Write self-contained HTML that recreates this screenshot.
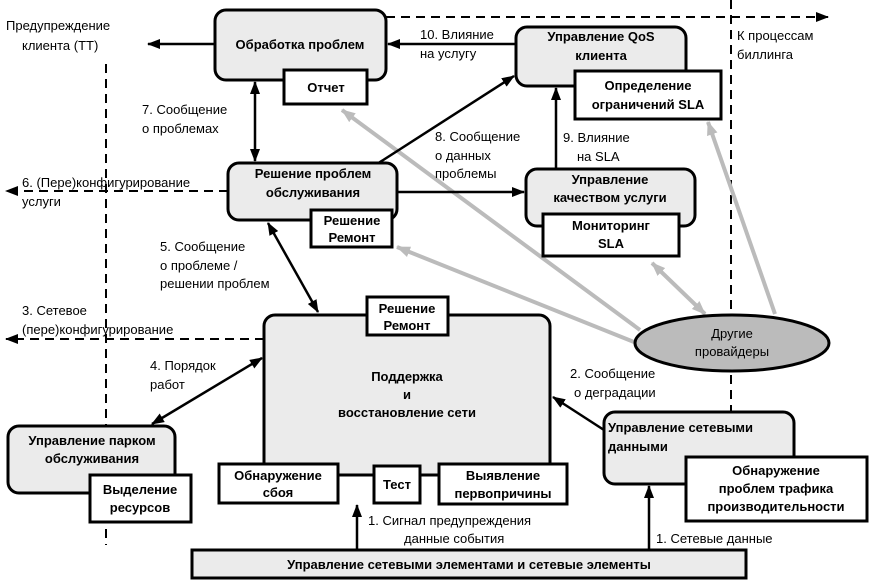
<!DOCTYPE html>
<html><head><meta charset="utf-8"><style>
html,body{margin:0;padding:0;background:#fff}
svg{display:block}
text{font-family:"Liberation Sans","DejaVu Sans",sans-serif;font-size:13px;fill:#000}
.b{font-weight:bold}
</style></head><body>
<svg width="869" height="581" viewBox="0 0 869 581" xmlns="http://www.w3.org/2000/svg">
<defs>
<marker id="a" markerWidth="13" markerHeight="10" refX="12" refY="5" orient="auto-start-reverse" markerUnits="userSpaceOnUse"><path d="M0,0 L13,5 L0,10 z" fill="#000"/></marker>
<marker id="g" markerWidth="14" markerHeight="11" refX="13" refY="5.5" orient="auto-start-reverse" markerUnits="userSpaceOnUse"><path d="M0,0 L14,5.5 L0,11 z" fill="#bbb"/></marker>
</defs>
<g stroke="#000" stroke-width="2" fill="none" stroke-dasharray="9,6">
<line x1="106" y1="64" x2="106" y2="545"/>
<line x1="731" y1="0" x2="731" y2="515"/>
<line x1="386" y1="17" x2="828" y2="17" marker-end="url(#a)"/>
<line x1="228" y1="191" x2="6" y2="191" marker-end="url(#a)"/>
<line x1="264" y1="339" x2="6" y2="339" marker-end="url(#a)"/>
</g>
<g stroke="#bbb" stroke-width="4" fill="none">
<line x1="640" y1="330" x2="342" y2="110" marker-end="url(#g)"/>
<line x1="634" y1="342" x2="397" y2="247" marker-end="url(#g)"/>
<line x1="705" y1="314" x2="652" y2="263" marker-end="url(#g)" marker-start="url(#g)"/>
<line x1="775" y1="314" x2="708" y2="122" marker-end="url(#g)"/>
</g>
<g stroke="#000" stroke-width="2.5" fill="none">
<line x1="215" y1="44" x2="148" y2="44" marker-end="url(#a)"/>
<line x1="516" y1="44" x2="388" y2="44" marker-end="url(#a)"/>
<line x1="255" y1="82" x2="255" y2="161" marker-end="url(#a)" marker-start="url(#a)"/>
<line x1="377" y1="164" x2="514" y2="76" marker-end="url(#a)"/>
<line x1="397" y1="192" x2="524" y2="192" marker-end="url(#a)"/>
<line x1="556" y1="169" x2="556" y2="88" marker-end="url(#a)"/>
<line x1="268" y1="223" x2="318" y2="312" marker-end="url(#a)" marker-start="url(#a)"/>
<line x1="262" y1="358" x2="152" y2="424" marker-end="url(#a)" marker-start="url(#a)"/>
<line x1="604" y1="430" x2="553" y2="397" marker-end="url(#a)"/>
<line x1="357" y1="550" x2="357" y2="505" marker-end="url(#a)"/>
<line x1="649" y1="550" x2="649" y2="486" marker-end="url(#a)"/>
</g>
<g stroke="#000" stroke-width="3">
<rect x="215" y="10" width="171" height="70" rx="11" fill="#ebebeb"/>
<rect x="284" y="70" width="83" height="34" fill="#fff"/>
<rect x="516" y="27" width="170" height="59" rx="11" fill="#ebebeb"/>
<rect x="575" y="71" width="146" height="48" fill="#fff"/>
<rect x="228" y="163" width="169" height="57" rx="11" fill="#ebebeb"/>
<rect x="311" y="210" width="81" height="37" fill="#fff"/>
<rect x="526" y="169" width="169" height="57" rx="11" fill="#ebebeb"/>
<rect x="543" y="214" width="136" height="42" fill="#fff"/>
<rect x="264" y="315" width="286" height="160" rx="11" fill="#ebebeb"/>
<rect x="367" y="297" width="81" height="38" fill="#fff"/>
<rect x="219" y="464" width="119" height="39" fill="#fff"/>
<rect x="374" y="466" width="46" height="37" fill="#fff"/>
<rect x="439" y="464" width="128" height="40" fill="#fff"/>
<rect x="8" y="426" width="167" height="67" rx="11" fill="#ebebeb"/>
<rect x="90" y="475" width="101" height="47" fill="#fff"/>
<rect x="604" y="412" width="190" height="72" rx="11" fill="#ebebeb"/>
<rect x="686" y="457" width="181" height="64" fill="#fff"/>
<rect x="192" y="550" width="554" height="28" fill="#ebebeb"/>
<ellipse cx="732" cy="343" rx="97" ry="28" fill="#bbb"/>
</g>
<g text-anchor="middle">
<text class="b" x="300" y="49">Обработка проблем</text>
<text class="b" x="326" y="92">Отчет</text>
<text class="b" x="601" y="41">Управление QoS</text>
<text class="b" x="601" y="60">клиента</text>
<text class="b" x="648" y="90">Определение</text>
<text class="b" x="648" y="109">ограничений SLA</text>
<text class="b" x="313" y="178">Решение проблем</text>
<text class="b" x="313" y="197">обслуживания</text>
<text class="b" x="352" y="225">Решение</text>
<text class="b" x="352" y="242">Ремонт</text>
<text class="b" x="610" y="184">Управление</text>
<text class="b" x="610" y="202">качеством услуги</text>
<text class="b" x="611" y="230">Мониторинг</text>
<text class="b" x="611" y="248">SLA</text>
<text class="b" x="407" y="313">Решение</text>
<text class="b" x="407" y="330">Ремонт</text>
<text class="b" x="407" y="381">Поддержка</text>
<text class="b" x="407" y="399">и</text>
<text class="b" x="407" y="417">восстановление сети</text>
<text class="b" x="278" y="480">Обнаружение</text>
<text class="b" x="278" y="497">сбоя</text>
<text class="b" x="397" y="489">Тест</text>
<text class="b" x="503" y="480">Выявление</text>
<text class="b" x="503" y="498">первопричины</text>
<text class="b" x="92" y="445">Управление парком</text>
<text class="b" x="92" y="463">обслуживания</text>
<text class="b" x="140" y="494">Выделение</text>
<text class="b" x="140" y="512">ресурсов</text>
<text class="b" x="776" y="475">Обнаружение</text>
<text class="b" x="776" y="493">проблем трафика</text>
<text class="b" x="776" y="511">производительности</text>
<text class="b" x="469" y="569">Управление сетевыми элементами и сетевые элементы</text>
<text x="732" y="338">Другие</text>
<text x="732" y="356">провайдеры</text>
</g>
<text class="b" x="608" y="432">Управление сетевыми</text>
<text class="b" x="608" y="451">данными</text>
<text x="6" y="30">Предупреждение</text>
<text x="22" y="50">клиента (ТТ)</text>
<text x="420" y="39">10. Влияние</text>
<text x="420" y="58">на услугу</text>
<text x="737" y="40">К процессам</text>
<text x="737" y="59">биллинга</text>
<text x="142" y="114">7. Сообщение</text>
<text x="142" y="133">о проблемах</text>
<text x="435" y="141">8. Сообщение</text>
<text x="435" y="160">о данных</text>
<text x="435" y="178">проблемы</text>
<text x="563" y="142">9. Влияние</text>
<text x="577" y="161">на SLA</text>
<text x="22" y="187">6. (Пере)конфигурирование</text>
<text x="22" y="206">услуги</text>
<text x="160" y="251">5. Сообщение</text>
<text x="160" y="270">о проблеме /</text>
<text x="160" y="288">решении проблем</text>
<text x="22" y="315">3. Сетевое</text>
<text x="22" y="334">(пере)конфигурирование</text>
<text x="150" y="370">4. Порядок</text>
<text x="150" y="389">работ</text>
<text x="570" y="378">2. Сообщение</text>
<text x="574" y="397">о деградации</text>
<text x="368" y="525">1. Сигнал предупреждения</text>
<text x="404" y="543">данные события</text>
<text x="656" y="543">1. Сетевые данные</text>
</svg>
</body></html>
